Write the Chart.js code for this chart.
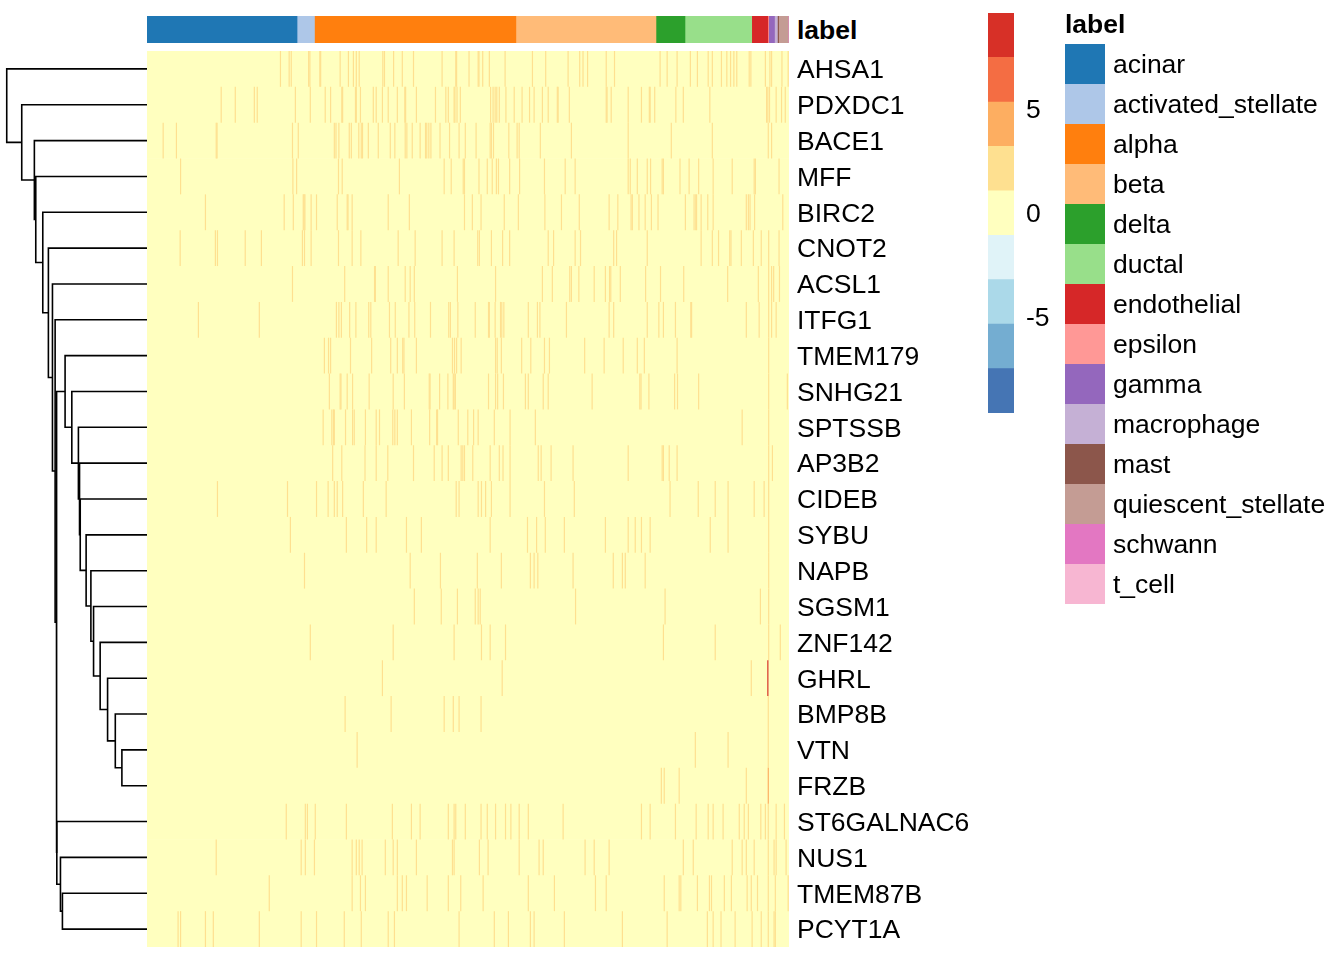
<!DOCTYPE html>
<html>
<head>
<meta charset="utf-8">
<title>label heatmap</title>
<script src="https://cdn.jsdelivr.net/npm/chart.js@4.4.0/dist/chart.umd.min.js"></script>
<style>
  body { margin: 0; background: #fff; width: 1344px; height: 960px; position: relative; overflow: hidden;
         font-family: "Liberation Sans", Arial, sans-serif; }
  canvas { position: absolute; }
  .txt { position: absolute; font-size: 26.5px; line-height: 30px; color: #000; white-space: nowrap; }
  .bold { font-weight: bold; }
  .swatch { position: absolute; width: 40px; height: 40px; }
</style>
</head>
<body>
<canvas id="dendro" width="147" height="896" style="left:0;top:51px"></canvas>
<canvas id="annot" width="642" height="27" style="left:147px;top:16px"></canvas>
<canvas id="heat" width="832" height="896" style="left:147px;top:51px"></canvas>
<canvas id="key" width="96" height="400" style="left:988px;top:13px"></canvas>
<div class="txt bold" style="left:797px;top:15px">label</div>
<div id="legend"></div>

<script>
// rows, top to bottom
const genes = ["AHSA1", "PDXDC1", "BACE1", "MFF", "BIRC2", "CNOT2", "ACSL1", "ITFG1", "TMEM179",
  "SNHG21", "SPTSSB", "AP3B2", "CIDEB", "SYBU", "NAPB", "SGSM1", "ZNF142", "GHRL", "BMP8B", "VTN",
  "FRZB", "ST6GALNAC6", "NUS1", "TMEM87B", "PCYT1A"];

// column annotation (cells per type, in column order)
const cellTypes = ["acinar", "activated_stellate", "alpha", "beta", "delta", "ductal", "endothelial",
  "epsilon", "gamma", "macrophage", "mast", "quiescent_stellate", "schwann", "t_cell"];
const cellTypeCounts = [362, 42, 486, 338, 70, 161, 39, 2, 14, 7, 3, 23, 1, 1];
const cellTypeColours = ["#1F77B4", "#AEC7E8", "#FF7F0E", "#FFBB78", "#2CA02C", "#98DF8A", "#D62728",
  "#FF9896", "#9467BD", "#C5B0D5", "#8C564B", "#C49C94", "#E377C2", "#F7B6D2"];

// colour key
const keyColours = ["#4575B4", "#74ADD1", "#ABD9E9", "#E0F3F8", "#FFFFBF", "#FEE090", "#FDAE61", "#F46D43", "#D73027"];
const keyBreaks = [-9.6, -7.47, -5.33, -3.2, -1.07, 1.07, 3.2, 5.33, 7.47, 9.6];
const keyTicks = [-5, 0, 5];

// scaled expression: most cells sit near 0, expressing cells a bit above
const baseValue = 0;
const expressedValue = 2;
// column index of expressing cells, one list per gene
const expressedCells = [
  [322, 343, 348, 390, 393, 417, 419, 466, 486, 498, 505, 512, 569, 573, 595, 616, 643, 712, 745, 747, 777, 799, 801, 810, 826, 864, 930, 962, 1016, 1044, 1052, 1063, 1108, 1128, 1238, 1255, 1279, 1311, 1328, 1354, 1364, 1386, 1399, 1408, 1416, 1423, 1453, 1457, 1492, 1503, 1507, 1532, 1547],
  [179, 213, 259, 266, 358, 394, 430, 443, 470, 472, 503, 505, 515, 546, 553, 568, 582, 604, 622, 624, 650, 696, 721, 727, 741, 743, 748, 756, 829, 835, 840, 844, 850, 866, 886, 905, 923, 934, 954, 968, 990, 992, 1019, 1108, 1110, 1120, 1161, 1193, 1212, 1214, 1225, 1276, 1294, 1358, 1495, 1498, 1502, 1518, 1531, 1540],
  [39, 71, 167, 169, 351, 365, 452, 456, 463, 488, 493, 511, 517, 520, 534, 558, 587, 598, 623, 627, 640, 659, 672, 675, 680, 685, 707, 730, 753, 768, 794, 828, 831, 836, 873, 893, 898, 949, 1024, 1161, 1265, 1364, 1499, 1507],
  [81, 352, 361, 462, 471, 609, 717, 734, 763, 766, 801, 821, 833, 843, 848, 875, 899, 959, 1009, 1033, 1161, 1166, 1183, 1207, 1215, 1243, 1246, 1286, 1308, 1331, 1366, 1412, 1465, 1468, 1525],
  [141, 331, 353, 377, 379, 381, 396, 409, 459, 483, 485, 495, 582, 633, 766, 785, 806, 862, 896, 960, 1000, 1043, 1115, 1136, 1168, 1171, 1187, 1202, 1217, 1233, 1299, 1320, 1324, 1326, 1337, 1353, 1366, 1446, 1451, 1455, 1466, 1534],
  [80, 165, 170, 237, 276, 375, 380, 396, 462, 495, 516, 606, 647, 712, 741, 798, 802, 831, 858, 875, 968, 981, 1033, 1046, 1126, 1133, 1207, 1337, 1364, 1379, 1406, 1409, 1434, 1463, 1482, 1500, 1525],
  [351, 477, 549, 551, 582, 623, 635, 645, 749, 841, 954, 978, 1020, 1024, 1042, 1079, 1106, 1116, 1119, 1142, 1203, 1239, 1295, 1401, 1475, 1500, 1507, 1512, 1526],
  [124, 271, 457, 463, 469, 489, 504, 535, 540, 585, 599, 632, 646, 684, 728, 732, 750, 792, 824, 826, 840, 853, 856, 861, 920, 942, 948, 1012, 1115, 1126, 1207, 1235, 1246, 1275, 1312, 1314, 1446, 1477, 1500, 1507, 1518],
  [428, 438, 443, 491, 542, 588, 604, 617, 620, 650, 737, 742, 747, 758, 841, 845, 855, 904, 926, 959, 971, 1056, 1103, 1149, 1183, 1200, 1279, 1500],
  [440, 466, 468, 483, 496, 536, 594, 621, 681, 683, 706, 726, 739, 741, 744, 824, 841, 846, 860, 913, 920, 956, 968, 1074, 1189, 1192, 1211, 1273, 1280, 1331, 1500, 1545],
  [425, 446, 450, 452, 479, 496, 500, 527, 553, 561, 593, 598, 604, 638, 682, 699, 701, 751, 774, 788, 799, 838, 876, 937, 1436, 1500],
  [448, 470, 526, 553, 581, 643, 693, 712, 727, 758, 762, 766, 786, 828, 850, 859, 876, 944, 951, 975, 1028, 1161, 1243, 1246, 1260, 1279, 1500, 1509],
  [170, 339, 409, 437, 452, 459, 472, 522, 577, 746, 753, 799, 807, 817, 831, 876, 959, 1031, 1262, 1330, 1371, 1402, 1465, 1489, 1500],
  [346, 481, 530, 553, 626, 662, 828, 918, 940, 961, 1007, 1106, 1161, 1178, 1193, 1214, 1359, 1402, 1500],
  [380, 635, 708, 797, 855, 925, 934, 943, 1028, 1125, 1147, 1154, 1202, 1500],
  [645, 710, 749, 792, 799, 804, 1034, 1250, 1480, 1500],
  [394, 594, 741, 807, 828, 865, 1246, 1371, 1500, 1528],
  [568, 857, 1458],
  [478, 589, 717, 739, 753, 806, 1499],
  [507, 1323, 1402, 1499],
  [1241, 1248, 1284, 1446],
  [336, 382, 387, 406, 481, 592, 638, 659, 727, 741, 745, 768, 806, 821, 841, 865, 878, 898, 920, 1004, 1193, 1214, 1275, 1325, 1354, 1366, 1390, 1429, 1441, 1451, 1481, 1492, 1499, 1518, 1538],
  [167, 372, 382, 404, 495, 505, 512, 519, 575, 594, 604, 650, 737, 741, 802, 823, 898, 946, 956, 1057, 1079, 1115, 1294, 1318, 1412, 1436, 1446, 1465, 1499, 1513, 1518, 1542],
  [295, 495, 515, 527, 604, 616, 626, 676, 727, 757, 811, 920, 983, 1082, 1108, 1248, 1284, 1288, 1328, 1357, 1362, 1393, 1410, 1448, 1458, 1473, 1499, 1516, 1547],
  [75, 81, 141, 160, 271, 372, 409, 476, 517, 582, 597, 753, 838, 872, 925, 934, 1007, 1147, 1255, 1352, 1366, 1385, 1419, 1460, 1482, 1499, 1513, 1516]
];
// the few strongly expressing cells (gene, column, value)
const strongCells = [["GHRL", 1498, 9.2], ["FRZB", 1499, 4.6]];

// row clustering, hclust style: negative = leaf (1-based row), positive = earlier merge
const merges = [
  [-20, -21, 0.179], [-19, 1, 0.226], [-18, 2, 0.281], [-17, 3, 0.334], [-16, 4, 0.381],
  [-15, 5, 0.400], [-14, 6, 0.434], [-13, 7, 0.476], [-12, 8, 0.481], [-11, 9, 0.489],
  [-10, 10, 0.536], [-9, 11, 0.584], [-24, -25, 0.603], [-23, 13, 0.617], [-22, 14, 0.643],
  [12, 15, 0.646], [-8, 16, 0.655], [-7, 17, 0.674], [-6, 18, 0.703], [-5, 19, 0.743],
  [-4, 20, 0.793], [-3, 21, 0.803], [-2, 22, 0.893], [-1, 23, 1.0]
];

Chart.defaults.font.family = '"Liberation Sans", Arial, sans-serif';
Chart.defaults.color = "#000";
Chart.defaults.animation = false;
Chart.defaults.responsive = false;
Chart.defaults.maintainAspectRatio = false;
Chart.defaults.events = [];
Chart.defaults.plugins.legend.display = false;
Chart.defaults.plugins.tooltip.enabled = false;

const N = cellTypeCounts.reduce((a, b) => a + b, 0);
const ROW_H = 896 / genes.length;

function colourFor(v) {
  for (let i = 0; i < keyColours.length; i++) {
    if (v <= keyBreaks[i + 1]) return keyColours[i];
  }
  return keyColours[keyColours.length - 1];
}

function dendroSegments() {
  const pos = [], hgt = [], segs = [];
  const ref = (k) => (k < 0 ? { y: -k - 1, h: 0 } : { y: pos[k - 1], h: hgt[k - 1] });
  merges.forEach(([a, b, h], i) => {
    const A = ref(a), B = ref(b);
    segs.push([{ x: A.h, y: A.y }, { x: h, y: A.y }, { x: h, y: B.y }, { x: B.h, y: B.y }]);
    pos[i] = (A.y + B.y) / 2;
    hgt[i] = h;
  });
  return segs;
}

// dendrogram
new Chart(document.getElementById("dendro"), {
  type: "scatter",
  data: {
    datasets: dendroSegments().map((seg) => ({
      data: seg,
      showLine: true,
      borderColor: "#000",
      borderWidth: 1.6,
      pointRadius: 0,
      clip: false,
    })),
  },
  options: {
    layout: { padding: 0, autoPadding: false },
    scales: {
      x: { type: "linear", reverse: true, min: 0, max: 1.048, display: false },
      y: { type: "linear", reverse: true, min: -0.5, max: genes.length - 0.5, display: false },
    },
  },
});

// column annotation bar
new Chart(document.getElementById("annot"), {
  type: "bar",
  data: {
    labels: ["label"],
    datasets: cellTypes.map((t, i) => ({
      label: t,
      data: [cellTypeCounts[i]],
      backgroundColor: cellTypeColours[i],
      borderWidth: 0,
      barPercentage: 1,
      categoryPercentage: 1,
    })),
  },
  options: {
    indexAxis: "y",
    layout: { padding: 0, autoPadding: false },
    scales: {
      x: { stacked: true, min: 0, max: N, display: false },
      y: { stacked: true, display: false },
    },
  },
});

// heatmap
const expressedPts = [];
genes.forEach((g, i) => expressedCells[i].forEach((c) => expressedPts.push({ x: c, y: g })));

const stripe = {
  type: "scatter",
  pointStyle: "line",
  pointRotation: 90,
  pointRadius: ROW_H / 2,
  pointBorderWidth: 1.2,
  clip: false,
};

new Chart(document.getElementById("heat"), {
  type: "bar",
  data: {
    labels: genes,
    datasets: [
      {
        type: "bar",
        data: genes.map(() => [0, N]),
        backgroundColor: colourFor(baseValue),
        borderWidth: 0,
        barPercentage: 1,
        categoryPercentage: 1,
        order: 2,
      },
      { ...stripe, data: expressedPts, pointBorderColor: colourFor(expressedValue), order: 1 },
      {
        ...stripe,
        data: strongCells.map(([g, c]) => ({ x: c, y: g })),
        pointBorderColor: strongCells.map((s) => colourFor(s[2])),
        order: 0,
      },
    ],
  },
  options: {
    indexAxis: "y",
    layout: { padding: 0, autoPadding: false },
    scales: {
      x: { type: "linear", min: 0, max: N, offset: false, display: false },
      y: {
        type: "category",
        position: "right",
        offset: true,
        grid: { display: false, drawTicks: false },
        border: { display: false },
        ticks: { autoSkip: false, padding: 8, labelOffset: 2, font: { size: 26.5 } },
        afterFit: (s) => {
          s.width = 190;
          s.paddingTop = 0;
          s.paddingBottom = 0;
        },
      },
    },
  },
});

// colour key
new Chart(document.getElementById("key"), {
  type: "bar",
  data: {
    labels: ["key"],
    datasets: keyColours.map((c, i) => ({
      data: [[keyBreaks[i], keyBreaks[i + 1]]],
      backgroundColor: c,
      borderWidth: 0,
      grouped: false,
      barPercentage: 1,
      categoryPercentage: 1,
    })),
  },
  options: {
    layout: { padding: 0, autoPadding: false },
    scales: {
      x: { display: false },
      y: {
        min: keyBreaks[0],
        max: keyBreaks[keyBreaks.length - 1],
        position: "right",
        grid: { display: false, drawTicks: false },
        border: { display: false },
        ticks: { padding: 12, labelOffset: 2, font: { size: 26.5 } },
        afterBuildTicks: (s) => {
          s.ticks = keyTicks.map((v) => ({ value: v }));
        },
        afterFit: (s) => {
          s.width = 70;
          s.paddingTop = 0;
          s.paddingBottom = 0;
        },
      },
    },
  },
});

// annotation legend
const legend = document.getElementById("legend");
let html = '<div class="txt bold" style="left:1065px;top:9px">label</div>';
cellTypes.forEach((t, i) => {
  const top = 44 + 40 * i;
  html += `<div class="swatch" style="left:1065px;top:${top}px;background:${cellTypeColours[i]}"></div>`;
  html += `<div class="txt" style="left:1113px;top:${top + 5}px">${t}</div>`;
});
legend.innerHTML = html;
</script>
</body>
</html>
